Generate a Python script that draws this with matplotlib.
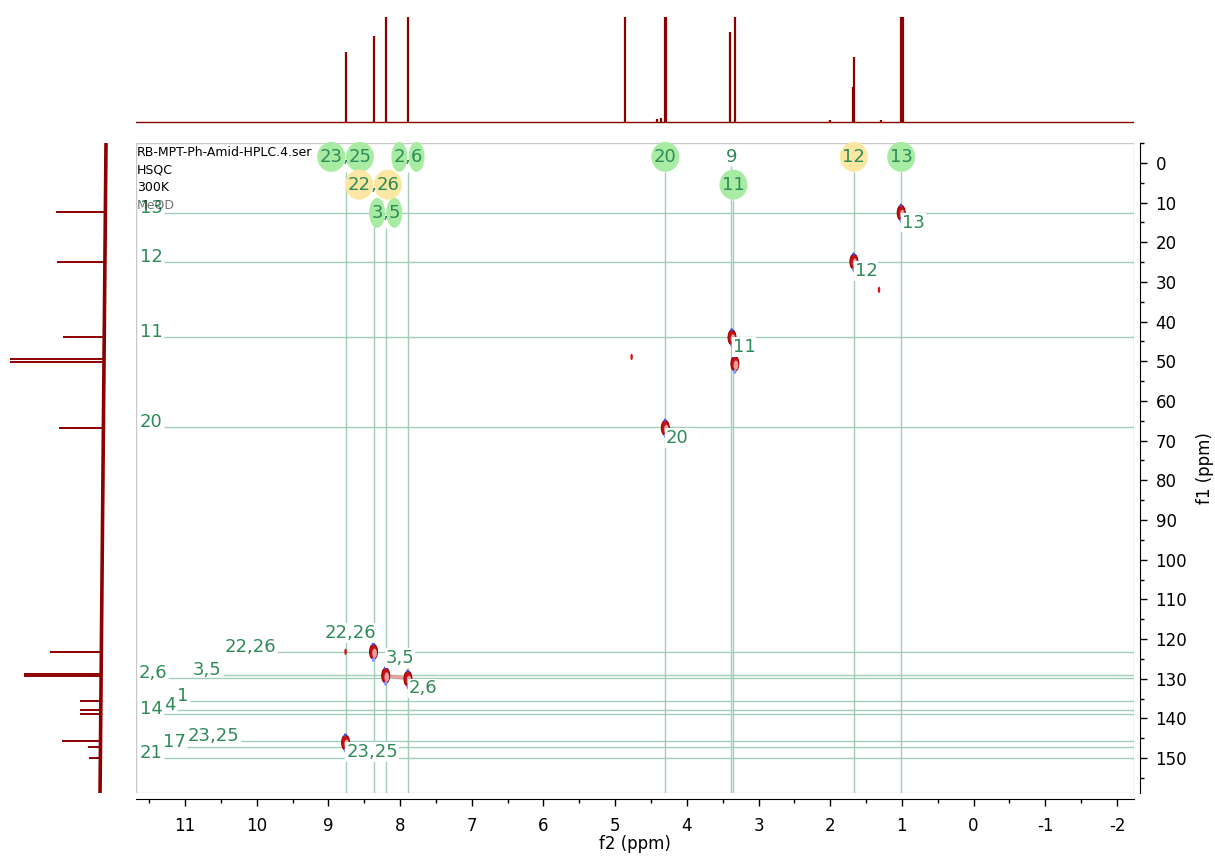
import matplotlib
matplotlib.use('Agg')
import matplotlib.pyplot as plt
from matplotlib.patches import Ellipse, Rectangle
from matplotlib.ticker import MultipleLocator
from matplotlib.transforms import ScaledTranslation

plt.rcParams['font.family'] = ['DejaVu Sans']
plt.rcParams['axes.unicode_minus'] = False

# 1H projection: shift (ppm) and height relative to the clip level (>1 is clipped)
h_ppm = [8.76, 8.37, 8.20, 7.89, 4.86, 4.41, 4.36, 4.31, 4.29, 3.40, 3.33,
         2.00, 1.68, 1.67, 1.29, 1.01, 0.99]
h_int = [0.67, 0.82, 1.5, 1.5, 1.5, 0.03, 0.04, 1.5, 1.2, 0.86, 1.5,
         0.015, 0.33, 0.62, 0.02, 1.5, 1.5]

# 13C projection: shift (ppm) and tip intensity
c_ppm = [12.5, 24.9, 43.8, 49.4, 50.2, 66.7, 123.3, 128.9, 129.4, 135.7,
         137.9, 138.9, 145.8, 147.2, 150.0]
c_int = [0.505, 0.495, 0.43, 1.0, 1.0, 0.473, 0.57, 0.85, 0.85, 0.247,
         0.247, 0.247, 0.44, 0.161, 0.15]
c_base_ppm = [-5.0, 158.8]
c_base_int = [-0.032, 0.032]

# HSQC cross peaks (1H ppm, 13C ppm, label)
xp_h = [1.01, 1.67, 3.37, 3.33, 4.30, 8.37, 8.20, 7.89, 8.76]
xp_c = [12.6, 24.9, 44.0, 50.6, 66.8, 123.2, 129.2, 130.0, 146.1]
xp_lab = ['13', '12', '11', '', '20', '22,26', '3,5', '2,6', '23,25']
# weak specks
sp_h = [8.76, 4.77, 1.32]
sp_c = [123.2, 48.9, 32.0]

# 1H assignments along the top (label, ppm, row, highlight)
top_lab = ['23,25', '2,6', '22,26', '3,5', '20', '9', '11', '12', '13']
top_h = [8.76, 7.89, 8.37, 8.20, 4.30, 3.38, 3.35, 1.67, 1.01]
top_row = [0, 0, 1, 2, 0, 0, 1, 0, 0]
top_hl = ['g', 'g', 'y', 'g', 'g', '', 'g', 'y', 'g']

# 13C assignments along the left (label, ppm, label position in 1H ppm)
side_lab = ['13', '12', '11', '20', '22,26', '3,5', '2,6', '1', '4', '14',
            '23,25', '17', '21']
side_c = [12.6, 24.9, 43.8, 66.5, 123.2, 129.0, 129.7, 135.7, 137.9, 138.9,
          145.8, 147.2, 150.0]
side_h = [11.47, 11.47, 11.47, 11.47, 10.09, 10.69, 11.45, 11.03, 11.21,
          11.47, 10.60, 11.15, 11.47]

info = ['RB-MPT-Ph-Amid-HPLC.4.ser', 'HSQC', '300K', 'MeOD']

green = '#2e8b57'
lcol = '#a3cfb9'
spec = '#8b0000'
hl_col = {'g': '#a8eca4', 'y': '#fbe6a2'}

W, H = 1215, 856


def frac(x0, y0, x1, y1):
    return [x0 / W, 1 - y1 / H, (x1 - x0) / W, (y1 - y0) / H]


fig = plt.figure(figsize=(12.15, 8.56), dpi=100)
ax = fig.add_axes(frac(136, 143, 1134, 793))
axt = fig.add_axes(frac(136, 17, 1134, 125), sharex=ax)
axl = fig.add_axes(frac(0, 143, 134, 793), sharey=ax)

ax.set_xlim(11.683, -2.237)
ax.set_ylim(158.8, -5.0)

# frame and axes
for s in ['left', 'top', 'bottom', 'right']:
    ax.spines[s].set_visible(False)
ax.add_patch(Rectangle((0, 0), 1, 1, transform=ax.transAxes, fill=False,
                       ec='#c8c8c8', lw=1, zorder=0.5))
ax.spines['bottom'].set_visible(True)
ax.spines['right'].set_visible(True)
ax.spines['bottom'].set_position(('outward', 4.5))
ax.spines['right'].set_position(('outward', 4.5))
ax.yaxis.tick_right()
ax.yaxis.set_label_position('right')
ax.xaxis.set_major_locator(MultipleLocator(1))
ax.xaxis.set_minor_locator(MultipleLocator(0.5))
ax.yaxis.set_major_locator(MultipleLocator(10))
ax.yaxis.set_minor_locator(MultipleLocator(5))
ax.tick_params(which='major', length=5, width=1, labelsize=12)
ax.tick_params(which='minor', length=3, width=1)
ax.tick_params(axis='x', which='major', pad=8)
ax.tick_params(axis='y', which='major', pad=6)
ax.set_xlabel('f2 (ppm)', fontsize=12, labelpad=0)
ax.set_ylabel('f1 (ppm)', fontsize=12, labelpad=6)

# 1D projections
axt.axis('off')
axt.set_ylim(-0.0286, 1.0)
axt.axhline(0, color=spec, lw=1)
axt.vlines(h_ppm, 0, h_int, color=spec, lw=1.6)

axl.axis('off')
axl.set_xlim(1.1075, -0.333)
axl.plot(c_base_int, c_base_ppm, color=spec, lw=2.6)
b0, b1 = c_base_int
p0, p1 = c_base_ppm
for c, i in zip(c_ppm, c_int):
    base = b0 + (b1 - b0) * (c - p0) / (p1 - p0)
    axl.hlines(c, base, i, color=spec, lw=1.4)

# cross peaks
ax.plot([xp_h[6], xp_h[7]], [xp_c[6], xp_c[7]], color='#f08080', lw=2.5,
        alpha=0.7, zorder=3)
for h, c in zip(xp_h, xp_c):
    ax.add_patch(Ellipse((h, c), 0.11, 3.8, fc='#c81010', ec='#a00000',
                         lw=0.8, zorder=3))
    ax.add_patch(Ellipse((h - 0.015, c + 0.4), 0.065, 2.4, fc='#e6a0a0',
                         ec='none', zorder=3.1))
    ax.add_patch(Ellipse((h + 0.005, c - 1.9), 0.035, 0.9, fc='#3a4cf0',
                         ec='none', zorder=3.2))
    ax.add_patch(Ellipse((h, c + 2.0), 0.045, 1.2, fc='#8a98ff',
                         ec='none', zorder=3.2))
for h, c in zip(sp_h, sp_c):
    ax.add_patch(Ellipse((h, c), 0.035, 1.6, fc='#e01010', ec='none',
                         zorder=3))

for h, c, lab in zip(xp_h, xp_c, xp_lab):
    if not lab:
        continue
    if lab == '22,26':
        kw = dict(xytext=(2, 7), ha='right', va='bottom')
    elif lab == '3,5':
        kw = dict(xytext=(0, 6), ha='left', va='bottom')
    else:
        kw = dict(xytext=(0.5, -0.5), ha='left', va='top')
    ax.annotate(lab, xy=(h, c), textcoords='offset points', fontsize=13,
                color=green, zorder=4,
                bbox=dict(boxstyle='square,pad=0.05', fc='white', ec='none'),
                **kw)

# top assignment labels with their highlight ellipses
row_y = [-1.5, 5.5, 12.6]
fs = 13
for lab, h, r, hl in zip(top_lab, top_h, top_row, top_hl):
    parts = lab.split(',')
    if len(parts) == 1:
        offs = [0.0]
    else:
        offs = [-(0.159 + 0.318 * len(parts[0])) * fs,
                (0.159 + 0.318 * len(parts[1])) * fs]
        ax.annotate(',', xy=(h, row_y[r]), xytext=(0, 0),
                    textcoords='offset points', ha='center', va='center',
                    fontsize=fs, color=green, zorder=6)
    tr = fig.dpi_scale_trans + ScaledTranslation(h, row_y[r], ax.transData)
    for p, dx in zip(parts, offs):
        if hl:
            w_px = 28 if len(p) == 2 else 16
            ax.add_patch(Ellipse((dx / 72, 0), w_px / 100, 0.30,
                                 transform=tr, fc=hl_col[hl], ec='none',
                                 zorder=4.5, clip_on=False))
        ax.annotate(p, xy=(h, row_y[r]), xytext=(dx, 0),
                    textcoords='offset points', ha='center', va='center',
                    fontsize=fs, color=green, zorder=5)

# left assignment labels
side_artists = []
for lab, c, h in zip(side_lab, side_c, side_h):
    t = ax.text(h, c - 1.25, lab, ha='center', va='center', fontsize=13,
                color=green, zorder=5)
    side_artists.append(t)

for k, line in enumerate(info):
    fig.text(137 / W, 1 - (152 + 17.7 * k) / H, line, fontsize=9,
             color='black', ha='left', va='center',
             alpha=0.55 if line == 'MeOD' else 1)

# guide lines start at the labels
fig.canvas.draw()
inv = ax.transData.inverted()
x_right = ax.get_xlim()[1]
y_bottom = ax.get_ylim()[0]
for t, c in zip(side_artists, side_c):
    x1 = t.get_window_extent().x1
    xs = inv.transform((x1 + 1, 0))[0]
    ax.hlines(c, xs, x_right, color=lcol, lw=1, zorder=1)
for h, r, hl in zip(top_h, top_row, top_hl):
    yd = ax.transData.transform((h, row_y[r]))[1]
    y0 = inv.transform((0, yd - (15 if hl else 9)))[1]
    ax.vlines(h, y0, y_bottom, color=lcol, lw=1, zorder=1)

fig.savefig('out.png', dpi=100)
